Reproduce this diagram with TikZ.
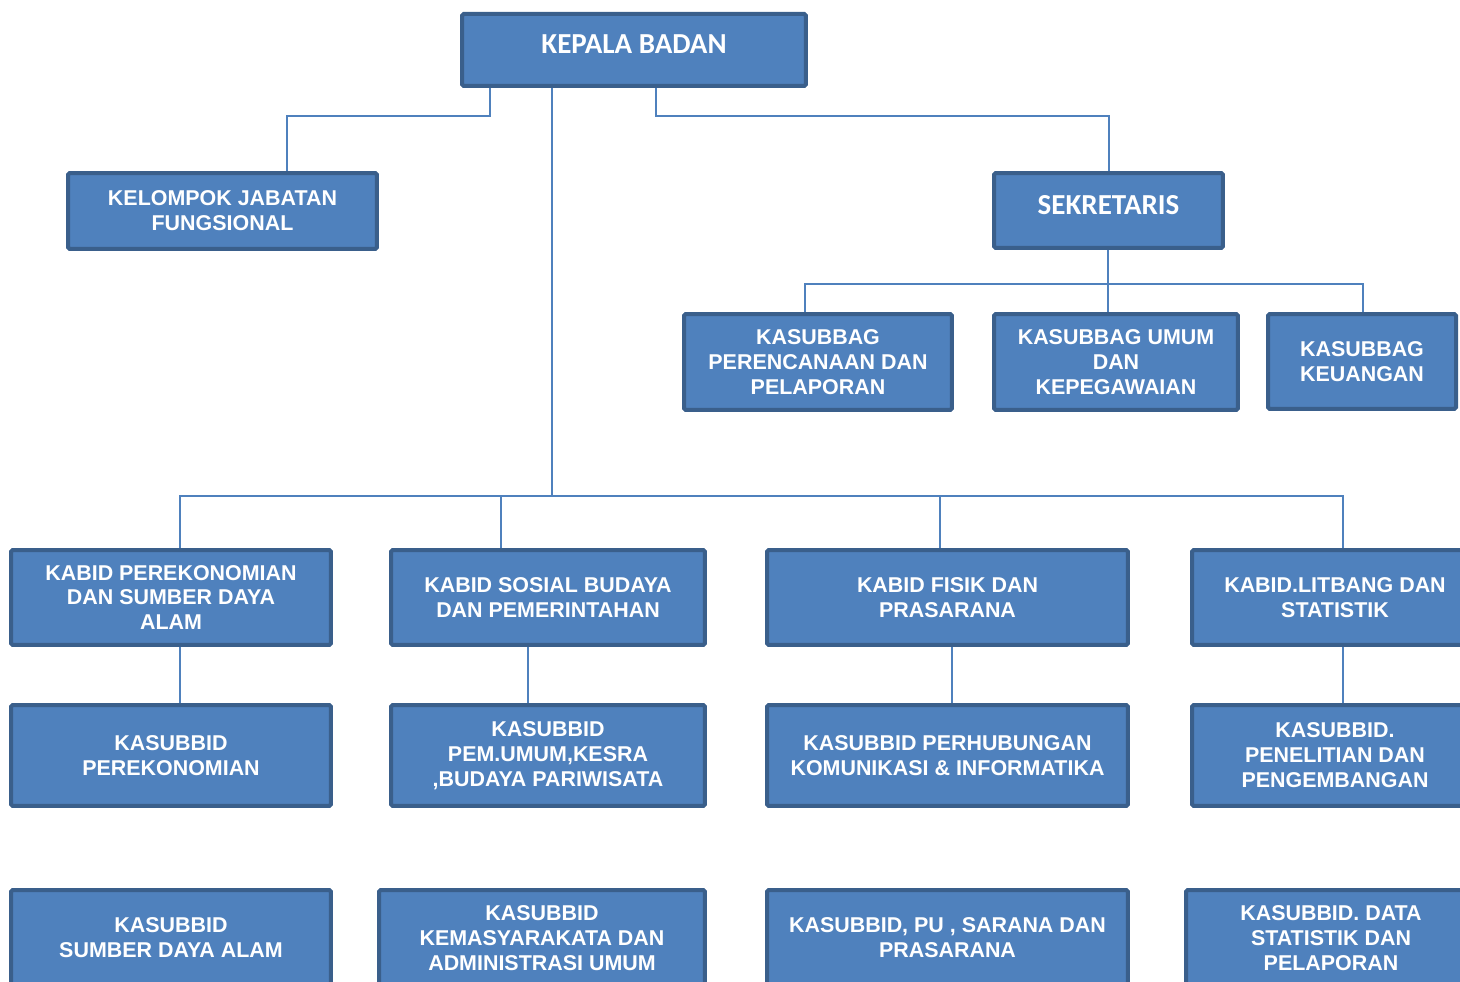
\documentclass[tikz,border=0pt]{standalone}
\usepackage{fontspec}
\usepackage{xcolor}
\usepackage{tikz}
\setmainfont{Liberation Sans}
\newfontfamily\calibri{Carlito}
\definecolor{boxfill}{HTML}{4F81BD}
\definecolor{boxline}{HTML}{3A5F8B}
\definecolor{linkblue}{HTML}{4F81BD}

\begin{document}
\begin{tikzpicture}[x=0.02cm, y=-0.02cm,
  unitbox/.style 2 args={rectangle, draw=boxline, fill=boxfill, line width=0.08cm, rounded corners=1pt, minimum width=#1, minimum height=#2, align=center, text=white, font=\fontsize{12.2}{14.2}\selectfont\bfseries},
  headbox/.style={font=\calibri\fontsize{16.5}{19}\selectfont\bfseries, text depth=0.24cm},
  link/.style={draw=linkblue, line width=0.04cm}]

\path[use as bounding box] (0,0) rectangle (1460,982);
\clip (0,0) rectangle (1460,982);

% top
\node[unitbox={6.88cm}{1.44cm}, headbox] (kepala) at (634,50) {KEPALA BADAN};
\node[unitbox={6.18cm}{1.52cm}] (kjf) at (222.5,211) {KELOMPOK JABATAN\\FUNGSIONAL};
\node[unitbox={4.58cm}{1.50cm}, headbox] (sekr) at (1108.5,210.5) {SEKRETARIS};

% sekretariat
\node[unitbox={5.36cm}{1.92cm}] (kbPer) at (818,362) {KASUBBAG\\PERENCANAAN DAN\\PELAPORAN};
\node[unitbox={4.88cm}{1.92cm}] (kbUmum) at (1116,362) {KASUBBAG UMUM\\DAN\\KEPEGAWAIAN};
\node[unitbox={3.76cm}{1.90cm}] (kbKeu) at (1362,361.5) {KASUBBAG\\KEUANGAN};

% kabid
\node[unitbox={6.40cm}{1.90cm}] (kabidA) at (171,597.5) {KABID PEREKONOMIAN\\DAN SUMBER DAYA\\ALAM};
\node[unitbox={6.28cm}{1.90cm}] (kabidB) at (548,597.5) {KABID SOSIAL BUDAYA\\DAN PEMERINTAHAN};
\node[unitbox={7.22cm}{1.90cm}] (kabidC) at (947.5,597.5) {KABID FISIK DAN\\PRASARANA};
\node[unitbox={5.72cm}{1.90cm}] (kabidD) at (1335,597.5) {KABID.LITBANG DAN\\STATISTIK};

% kasubbid 1
\node[unitbox={6.40cm}{2.02cm}] (subA1) at (171,755.5) {KASUBBID\\PEREKONOMIAN};
\node[unitbox={6.28cm}{2.02cm}] (subB1) at (548,755.5) {KASUBBID\\PEM.UMUM,KESRA\\,BUDAYA PARIWISATA};
\node[unitbox={7.22cm}{2.02cm}] (subC1) at (947.5,755.5) {KASUBBID PERHUBUNGAN\\KOMUNIKASI \& INFORMATIKA};
\node[unitbox={5.72cm}{2.02cm}] (subD1) at (1335,755.5) {KASUBBID.\\PENELITIAN DAN\\PENGEMBANGAN};

% kasubbid 2
\node[unitbox={6.40cm}{1.92cm}] (subA2) at (171,938) {KASUBBID\\SUMBER DAYA ALAM};
\node[unitbox={6.52cm}{1.92cm}] (subB2) at (542,938) {KASUBBID\\KEMASYARAKATA DAN\\ADMINISTRASI UMUM};
\node[unitbox={7.22cm}{1.92cm}] (subC2) at (947.5,938) {KASUBBID, PU , SARANA DAN\\PRASARANA};
\node[unitbox={5.80cm}{1.92cm}] (subD2) at (1331,938) {KASUBBID. DATA\\STATISTIK DAN\\PELAPORAN};

% connectors
\coordinate (bus) at (552,496);
\coordinate (sbus) at (1108,284);

\draw[link] (kepala.south -| 490,0) -- ++(0,28) -| (kjf.north -| 287,0);
\draw[link] (kepala.south -| 656,0) -- ++(0,28) -| (sekr.north);
\draw[link] (kepala.south -| bus) -- (bus);

\draw[link] (sekr.south -| sbus) -- (sbus);
\draw[link] (kbPer.north -| 805,0) |- (sbus);
\draw[link] (kbUmum.north -| sbus) -- (sbus);
\draw[link] (kbKeu.north -| 1363,0) |- (sbus);

\draw[link] (kabidA.north -| 180,0) |- (bus);
\draw[link] (kabidB.north -| 501,0) |- (bus);
\draw[link] (kabidC.north -| 940,0) |- (bus);
\draw[link] (kabidD.north -| 1343,0) |- (bus);

\draw[link] (kabidA.south -| 180,0) -- (subA1.north -| 180,0);
\draw[link] (kabidB.south -| 528,0) -- (subB1.north -| 528,0);
\draw[link] (kabidC.south -| 952,0) -- (subC1.north -| 952,0);
\draw[link] (kabidD.south -| 1343,0) -- (subD1.north -| 1343,0);

\end{tikzpicture}
\end{document}
